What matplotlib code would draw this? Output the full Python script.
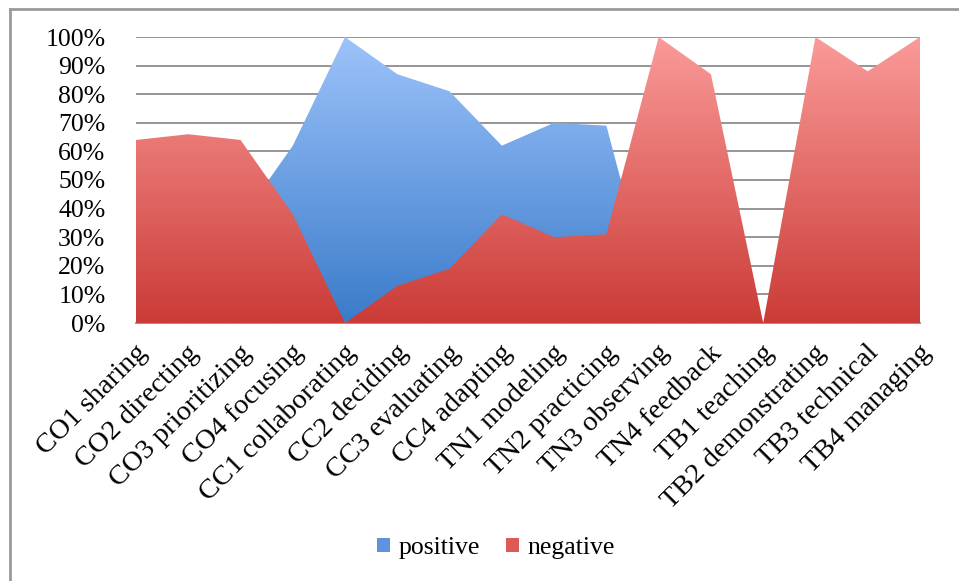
import numpy as np
import matplotlib.pyplot as plt
import matplotlib.transforms as mtransforms
from matplotlib.colors import LinearSegmentedColormap
from matplotlib.patches import Patch
from matplotlib.ticker import PercentFormatter

plt.rcParams['font.family'] = ['Liberation Serif', 'DejaVu Serif']

categories = ["CO1 sharing", "CO2 directing", "CO3 prioritizing", "CO4 focusing",
              "CC1 collaborating", "CC2 deciding", "CC3 evaluating", "CC4 adapting",
              "TN1 modeling", "TN2 practicing", "TN3 observing", "TN4 feedback",
              "TB1 teaching", "TB2 demonstrating", "TB3 technical", "TB4 managing"]
positive = [0.36, 0.34, 0.36, 0.62, 1.00, 0.87, 0.81, 0.62,
            0.70, 0.69, 0.00, 0.13, 0.00, 0.00, 0.12, 0.00]
negative = [0.64, 0.66, 0.64, 0.38, 0.00, 0.13, 0.19, 0.38,
            0.30, 0.31, 1.00, 0.87, 0.00, 1.00, 0.88, 1.00]

blue_top, blue_bottom = "#9dc3fa", "#3a7bca"
red_top, red_bottom = "#fa9b99", "#cb3b37"

fig = plt.figure(figsize=(9.59, 5.81), dpi=100)
ax = fig.add_axes([136 / 959, 258 / 581, 784 / 959, 286 / 581])

x = np.arange(len(categories))


def gradient_area(ax, xs, ys, top, bottom, z):
    poly = ax.fill_between(xs, 0, ys, facecolor="none", edgecolor="none", zorder=z)
    cmap = LinearSegmentedColormap.from_list("g", [bottom, top])
    grad = np.linspace(0, 1, 256).reshape(-1, 1)
    img = ax.imshow(grad, cmap=cmap, origin="lower", aspect="auto",
                    extent=[xs[0], xs[-1], 0, 1], zorder=z, interpolation="bilinear")
    path = poly.get_paths()[0]
    img.set_clip_path(path, transform=ax.transData)


gradient_area(ax, x, positive, blue_top, blue_bottom, 2)
gradient_area(ax, x, negative, red_top, red_bottom, 3)

ax.set_xlim(0, len(categories) - 1)
ax.set_ylim(0, 1)
ax.set_yticks(np.arange(0, 1.01, 0.1))
ax.yaxis.set_major_formatter(PercentFormatter(1.0, decimals=0))
ax.grid(axis="y", color="#8c8c8c", linewidth=1.3, zorder=1)
ax.set_axisbelow(True)
for side in ["top", "right", "left"]:
    ax.spines[side].set_visible(False)
ax.spines["bottom"].set_color("#8c8c8c")
ax.spines["bottom"].set_linewidth(1.3)
ax.tick_params(axis="y", length=0, pad=22, labelsize=18.5)
ax.tick_params(axis="x", length=0, pad=16, labelsize=20.5)
ax.set_xticks(x)
ax.set_xticklabels(categories, rotation=45, ha="right", va="center", rotation_mode="anchor")

# nudge the slanted category labels a little right and down
shift = mtransforms.ScaledTranslation(7 / 100, -4 / 100, fig.dpi_scale_trans)
for lbl in ax.get_xticklabels():
    lbl.set_transform(lbl.get_transform() + shift)

handles = [Patch(facecolor="#5f93dd", label="positive"),
           Patch(facecolor="#de5a57", label="negative")]
fig.legend(handles=handles, loc="center", bbox_to_anchor=(496 / 959, 1 - 548 / 581),
           ncol=2, frameon=False, fontsize=18.5, handlelength=0.5, handleheight=0.5,
           handletextpad=0.35, columnspacing=1.0)

# chart border, only top and left edges fall inside the canvas
fig.add_artist(plt.Line2D([10 / 959, 10 / 959], [0, 1 - 9 / 581], transform=fig.transFigure,
                          color="#9a9a9a", linewidth=2))
fig.add_artist(plt.Line2D([10 / 959, 1], [1 - 9 / 581, 1 - 9 / 581], transform=fig.transFigure,
                          color="#9a9a9a", linewidth=2))

fig.savefig("out.png", dpi=100)
